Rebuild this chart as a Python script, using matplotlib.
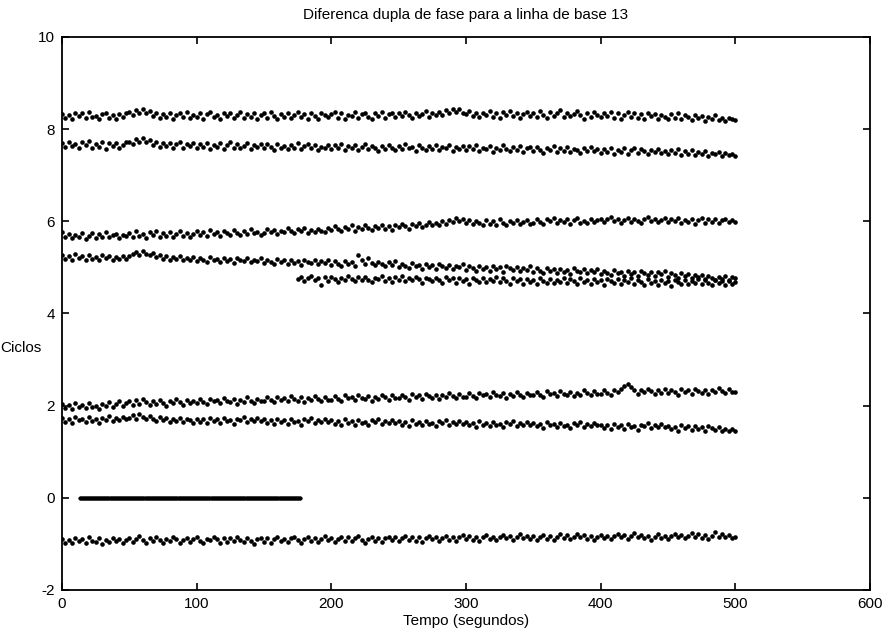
import matplotlib.pyplot as plt
import numpy as np

plt.rcParams['font.family'] = ['Liberation Sans', 'DejaVu Sans']
plt.rcParams['axes.unicode_minus'] = False

# sample times (s) for the full-length series, 2.5 s apart
t_full = np.arange(0, 500.1, 2.5)
# the branch that splits off near t = 175 s
t_split = np.arange(175, 500.1, 2.5)
# the reference baseline (constant zero) from 13 s to 177 s
t_zero = np.arange(13, 177.1, 0.5)
zero_vals = np.zeros(len(t_zero))

s_83 = [
    8.33, 8.24, 8.31, 8.22, 8.35, 8.28, 8.34, 8.25, 8.37, 8.26, 8.29, 8.23, 8.32, 8.36, 8.24, 8.30, 8.21, 8.33, 8.27, 8.34,
    8.38, 8.31, 8.42, 8.34, 8.44, 8.36, 8.39, 8.29, 8.35, 8.25, 8.33, 8.27, 8.36, 8.22, 8.31, 8.34, 8.26, 8.37, 8.24, 8.30,
    8.27, 8.35, 8.23, 8.32, 8.37, 8.26, 8.31, 8.21, 8.34, 8.28, 8.36, 8.25, 8.30, 8.38, 8.24, 8.33, 8.27, 8.35, 8.22, 8.31,
    8.34, 8.25, 8.37, 8.29, 8.22, 8.33, 8.27, 8.36, 8.24, 8.31, 8.38, 8.26, 8.32, 8.23, 8.35, 8.28, 8.21, 8.34, 8.30, 8.26,
    8.32, 8.37, 8.25, 8.34, 8.22, 8.31, 8.28, 8.38, 8.24, 8.33, 8.36, 8.27, 8.23, 8.35, 8.29, 8.37, 8.25, 8.32, 8.34, 8.26,
    8.35, 8.28, 8.37, 8.30, 8.25, 8.36, 8.29, 8.33, 8.39, 8.27, 8.35, 8.31, 8.38, 8.30, 8.42, 8.35, 8.44, 8.37, 8.43, 8.36,
    8.32, 8.39, 8.28, 8.36, 8.26, 8.35, 8.31, 8.40, 8.27, 8.34, 8.24, 8.37, 8.30, 8.39, 8.29, 8.36, 8.25, 8.33, 8.38, 8.28,
    8.35, 8.27, 8.40, 8.31, 8.24, 8.37, 8.29, 8.34, 8.41, 8.26, 8.36, 8.28, 8.33, 8.39, 8.30, 8.23, 8.35, 8.27, 8.38, 8.31,
    8.26, 8.36, 8.29, 8.38, 8.25, 8.34, 8.23, 8.31, 8.37, 8.27, 8.35, 8.24, 8.32, 8.21, 8.36, 8.28, 8.33, 8.22, 8.30, 8.26,
    8.23, 8.32, 8.25, 8.35, 8.21, 8.30, 8.26, 8.19, 8.31, 8.24, 8.28, 8.18, 8.27, 8.22, 8.30, 8.20, 8.25, 8.17, 8.24, 8.21,
    8.19,
]

s_76 = [
    7.70, 7.61, 7.73, 7.63, 7.68, 7.58, 7.71, 7.65, 7.74, 7.60, 7.67, 7.62, 7.72, 7.57, 7.69, 7.64, 7.70, 7.59, 7.66, 7.71,
    7.73, 7.68, 7.79, 7.72, 7.80, 7.71, 7.76, 7.66, 7.73, 7.61, 7.70, 7.64, 7.69, 7.58, 7.67, 7.71, 7.60, 7.68, 7.63, 7.70,
    7.59, 7.68, 7.62, 7.70, 7.57, 7.66, 7.61, 7.69, 7.56, 7.65, 7.71, 7.60, 7.67, 7.58, 7.63, 7.69, 7.57, 7.66, 7.62, 7.68,
    7.58, 7.67, 7.61, 7.55, 7.68, 7.60, 7.64, 7.57, 7.66, 7.59, 7.69, 7.56, 7.63, 7.67, 7.58, 7.65, 7.54, 7.62, 7.60, 7.66,
    7.57, 7.65, 7.59, 7.67, 7.55, 7.63, 7.58, 7.66, 7.54, 7.62, 7.68, 7.56, 7.64, 7.59, 7.53, 7.63, 7.57, 7.66, 7.60, 7.55,
    7.64, 7.56, 7.67, 7.58, 7.62, 7.53, 7.65, 7.59, 7.55, 7.63, 7.57, 7.66, 7.54, 7.61, 7.58, 7.65, 7.52, 7.62, 7.56, 7.64,
    7.55, 7.63, 7.57, 7.66, 7.52, 7.60, 7.56, 7.64, 7.51, 7.59, 7.54, 7.65, 7.57, 7.53, 7.61, 7.55, 7.63, 7.50, 7.58, 7.62,
    7.52, 7.61, 7.55, 7.49, 7.60, 7.54, 7.63, 7.51, 7.58, 7.53, 7.62, 7.50, 7.57, 7.55, 7.48, 7.59, 7.53, 7.61, 7.52, 7.57,
    7.49, 7.57, 7.51, 7.59, 7.47, 7.55, 7.50, 7.58, 7.46, 7.54, 7.60, 7.49, 7.56, 7.52, 7.45, 7.55, 7.50, 7.57, 7.48, 7.53,
    7.46, 7.54, 7.49, 7.56, 7.44, 7.52, 7.47, 7.55, 7.43, 7.50, 7.46, 7.53, 7.42, 7.49, 7.45, 7.51, 7.41, 7.48, 7.44, 7.47,
    7.42,
]

s_58 = [
    5.76, 5.67, 5.73, 5.63, 5.71, 5.66, 5.74, 5.62, 5.69, 5.75, 5.64, 5.72, 5.67, 5.77, 5.65, 5.70, 5.73, 5.63, 5.71, 5.68,
    5.75, 5.66, 5.78, 5.69, 5.73, 5.64, 5.76, 5.70, 5.79, 5.67, 5.74, 5.68, 5.77, 5.65, 5.72, 5.78, 5.69, 5.75, 5.66, 5.73,
    5.79, 5.70, 5.77, 5.68, 5.81, 5.73, 5.76, 5.69, 5.80, 5.74, 5.71, 5.82, 5.75, 5.70, 5.78, 5.72, 5.83, 5.74, 5.77, 5.71,
    5.75, 5.84, 5.77, 5.82, 5.73, 5.80, 5.76, 5.85, 5.78, 5.74, 5.83, 5.79, 5.86, 5.75, 5.81, 5.77, 5.84, 5.80, 5.76, 5.85,
    5.81, 5.89, 5.83, 5.79, 5.88, 5.84, 5.91, 5.80, 5.87, 5.83, 5.92, 5.85, 5.81, 5.90, 5.86, 5.93, 5.84, 5.89, 5.82, 5.91,
    5.87, 5.95, 5.89, 5.84, 5.94, 5.90, 5.97, 5.88, 5.93, 5.99, 5.91, 5.96, 5.92, 6.00, 5.95, 6.03, 5.98, 6.07, 6.01, 6.05,
    5.96, 6.03, 5.94, 6.01, 5.97, 5.92, 6.02, 5.95, 6.00, 5.93, 6.04, 5.97, 5.91, 6.01, 5.96, 6.03, 5.94, 5.99, 6.02, 5.95,
    5.97, 6.05, 5.99, 5.94, 6.04, 6.00, 6.07, 5.96, 6.02, 5.98, 6.06, 5.95, 6.03, 6.08, 5.97, 6.01, 5.96, 6.05, 5.99, 6.03,
    6.06, 5.98, 6.04, 6.09, 6.00, 6.05, 5.97, 6.03, 6.08, 5.99, 6.06, 6.01, 5.96, 6.04, 6.10, 6.00, 6.05, 5.98, 6.03, 6.07,
    5.98, 6.05, 6.00, 6.08, 5.96, 6.03, 5.99, 6.06, 5.95, 6.02, 6.07, 5.97, 6.04, 5.99, 6.05, 5.96, 6.02, 6.06, 5.98, 6.03,
    5.99,
]

s_52 = [
    5.26, 5.18, 5.24, 5.16, 5.28, 5.21, 5.25, 5.17, 5.27, 5.19, 5.23, 5.15, 5.26, 5.20, 5.24, 5.16, 5.22, 5.18, 5.25, 5.19,
    5.24, 5.29, 5.34, 5.27, 5.36, 5.29, 5.26, 5.31, 5.22, 5.27, 5.18, 5.25, 5.16, 5.23, 5.19, 5.25, 5.15, 5.21, 5.17, 5.23,
    5.14, 5.21, 5.16, 5.12, 5.22, 5.15, 5.19, 5.11, 5.20, 5.14, 5.18, 5.10, 5.21, 5.16, 5.13, 5.20, 5.11, 5.17, 5.14, 5.21,
    5.10, 5.17, 5.12, 5.07, 5.18, 5.11, 5.15, 5.08, 5.16, 5.10, 5.14, 5.06, 5.17, 5.12, 5.09, 5.15, 5.07, 5.13, 5.10, 5.16,
    5.06, 5.13, 5.08, 5.04, 5.14, 5.07, 5.11, 5.03, 5.27, 5.16, 5.08, 5.20, 5.10, 5.05, 5.12, 5.07, 5.02, 5.11, 5.06, 5.13,
    5.00, 5.08, 5.03, 4.98, 5.09, 5.02, 5.06, 4.97, 5.07, 5.01, 5.05, 4.96, 5.08, 5.03, 4.99, 5.06, 4.97, 5.04, 5.00, 5.07,
    4.95, 5.03, 4.98, 4.93, 5.04, 4.97, 5.01, 4.92, 5.02, 4.96, 5.00, 4.91, 5.03, 4.98, 4.94, 5.01, 4.92, 4.99, 4.95, 5.02,
    4.90, 4.98, 4.93, 4.88, 4.99, 4.92, 4.96, 4.87, 4.97, 4.91, 4.95, 4.86, 4.98, 4.93, 4.89, 4.96, 4.87, 4.94, 4.90, 4.97,
    4.85, 4.93, 4.88, 4.83, 4.94, 4.87, 4.91, 4.82, 4.92, 4.86, 4.90, 4.81, 4.93, 4.88, 4.84, 4.91, 4.82, 4.89, 4.85, 4.92,
    4.80, 4.88, 4.83, 4.78, 4.87, 4.81, 4.85, 4.76, 4.84, 4.79, 4.83, 4.74, 4.82, 4.78, 4.72, 4.80, 4.75, 4.81, 4.73, 4.79,
    4.76,
]

s_47 = [
    4.74, 4.79, 4.70, 4.77, 4.82, 4.72, 4.76, 4.61, 4.79, 4.71, 4.80, 4.74, 4.69, 4.78, 4.73, 4.81, 4.75, 4.70, 4.79, 4.72,
    4.80, 4.73, 4.69, 4.78, 4.74, 4.82, 4.71, 4.77, 4.68, 4.79, 4.73, 4.81, 4.70, 4.76, 4.72, 4.80, 4.74, 4.67, 4.78, 4.75,
    4.70, 4.78, 4.73, 4.67, 4.79, 4.72, 4.76, 4.66, 4.77, 4.71, 4.75, 4.65, 4.78, 4.73, 4.69, 4.77, 4.68, 4.75, 4.71, 4.79,
    4.68, 4.76, 4.71, 4.65, 4.77, 4.70, 4.74, 4.64, 4.75, 4.69, 4.73, 4.63, 4.76, 4.71, 4.67, 4.75, 4.66, 4.73, 4.69, 4.77,
    4.67, 4.75, 4.70, 4.64, 4.76, 4.69, 4.73, 4.63, 4.74, 4.68, 4.72, 4.62, 4.75, 4.70, 4.66, 4.74, 4.65, 4.72, 4.68, 4.76,
    4.65, 4.73, 4.68, 4.62, 4.74, 4.67, 4.71, 4.61, 4.72, 4.66, 4.70, 4.60, 4.73, 4.68, 4.64, 4.72, 4.63, 4.70, 4.66, 4.74,
    4.64, 4.72, 4.67, 4.61, 4.73, 4.66, 4.70, 4.62, 4.71, 4.65, 4.68,
]

s_22 = [
    2.03, 1.95, 2.01, 1.93, 2.05, 1.98, 2.02, 1.94, 2.06, 1.97, 2.00, 1.92, 2.04, 1.99, 2.07, 1.96, 2.03, 2.09, 2.00, 2.06,
    2.09, 2.02, 2.12, 2.04, 2.15, 2.07, 2.01, 2.10, 2.03, 2.13, 2.06, 2.00, 2.11, 2.05, 2.14, 2.08, 2.02, 2.12, 2.05, 2.10,
    2.06, 2.14, 2.08, 2.03, 2.15, 2.09, 2.12, 2.05, 2.17, 2.10, 2.07, 2.14, 2.04, 2.12, 2.08, 2.18, 2.11, 2.06, 2.15, 2.09,
    2.10, 2.18, 2.12, 2.07, 2.19, 2.13, 2.16, 2.09, 2.20, 2.14, 2.11, 2.18, 2.08, 2.16, 2.12, 2.21, 2.15, 2.10, 2.19, 2.13,
    2.13, 2.21, 2.15, 2.10, 2.22, 2.16, 2.19, 2.12, 2.23, 2.17, 2.14, 2.21, 2.11, 2.19, 2.15, 2.24, 2.18, 2.13, 2.22, 2.16,
    2.16, 2.24, 2.18, 2.13, 2.25, 2.19, 2.22, 2.15, 2.26, 2.20, 2.17, 2.24, 2.14, 2.22, 2.18, 2.27, 2.21, 2.16, 2.25, 2.19,
    2.19, 2.27, 2.21, 2.16, 2.28, 2.22, 2.25, 2.18, 2.29, 2.23, 2.20, 2.27, 2.17, 2.25, 2.21, 2.30, 2.24, 2.19, 2.28, 2.22,
    2.22, 2.30, 2.24, 2.19, 2.31, 2.25, 2.28, 2.21, 2.32, 2.26, 2.23, 2.30, 2.20, 2.28, 2.24, 2.33, 2.27, 2.22, 2.31, 2.25,
    2.25, 2.33, 2.27, 2.22, 2.34, 2.30, 2.36, 2.42, 2.48, 2.40, 2.33, 2.26, 2.35, 2.29, 2.37, 2.31, 2.25, 2.34, 2.28, 2.36,
    2.27, 2.35, 2.29, 2.24, 2.36, 2.30, 2.33, 2.26, 2.37, 2.31, 2.28, 2.35, 2.25, 2.33, 2.29, 2.38, 2.32, 2.27, 2.36, 2.30,
    2.29,
]

s_16 = [
    1.73, 1.65, 1.71, 1.63, 1.75, 1.68, 1.72, 1.64, 1.76, 1.67, 1.70, 1.62, 1.74, 1.69, 1.77, 1.66, 1.73, 1.68, 1.75, 1.70,
    1.74, 1.79, 1.72, 1.81, 1.76, 1.70, 1.78, 1.71, 1.66, 1.75, 1.69, 1.73, 1.64, 1.71, 1.67, 1.74, 1.65, 1.72, 1.68, 1.63,
    1.72, 1.65, 1.70, 1.62, 1.74, 1.67, 1.71, 1.63, 1.73, 1.66, 1.69, 1.61, 1.72, 1.68, 1.75, 1.64, 1.70, 1.66, 1.73, 1.67,
    1.70, 1.63, 1.68, 1.60, 1.72, 1.65, 1.69, 1.61, 1.71, 1.64, 1.67, 1.59, 1.70, 1.66, 1.73, 1.62, 1.68, 1.64, 1.71, 1.65,
    1.68, 1.61, 1.66, 1.58, 1.70, 1.63, 1.67, 1.59, 1.69, 1.62, 1.65, 1.57, 1.68, 1.64, 1.71, 1.60, 1.66, 1.62, 1.69, 1.63,
    1.66, 1.59, 1.64, 1.56, 1.68, 1.61, 1.65, 1.57, 1.67, 1.60, 1.63, 1.55, 1.66, 1.62, 1.69, 1.58, 1.64, 1.60, 1.67, 1.61,
    1.64, 1.57, 1.62, 1.54, 1.66, 1.59, 1.63, 1.55, 1.65, 1.58, 1.61, 1.53, 1.64, 1.60, 1.67, 1.56, 1.62, 1.58, 1.65, 1.59,
    1.62, 1.55, 1.60, 1.52, 1.64, 1.57, 1.61, 1.53, 1.63, 1.56, 1.59, 1.51, 1.62, 1.58, 1.65, 1.54, 1.60, 1.56, 1.63, 1.57,
    1.59, 1.52, 1.57, 1.49, 1.61, 1.54, 1.58, 1.50, 1.60, 1.53, 1.56, 1.48, 1.59, 1.55, 1.62, 1.51, 1.57, 1.53, 1.60, 1.54,
    1.56, 1.49, 1.54, 1.46, 1.58, 1.51, 1.55, 1.47, 1.56, 1.50, 1.53, 1.45, 1.55, 1.51, 1.48, 1.53, 1.44, 1.50, 1.46, 1.49,
    1.44,
]

s_m09 = [
    -0.89, -0.97, -0.91, -0.99, -0.87, -0.94, -0.90, -0.98, -0.86, -0.93, -0.96, -0.88, -1.00, -0.92, -0.95, -0.87, -0.93, -0.90, -0.97, -0.91,
    -0.87, -0.95, -0.89, -0.83, -0.92, -0.97, -0.88, -0.94, -0.85, -0.91, -0.98, -0.89, -0.93, -0.86, -0.90, -0.99, -0.92, -0.87, -0.95, -0.89,
    -0.86, -0.94, -0.97, -0.89, -0.92, -0.85, -0.90, -0.98, -0.88, -0.95, -0.87, -0.93, -0.84, -0.91, -0.96, -0.88, -0.94, -1.00, -0.90, -0.87,
    -0.95, -0.88, -0.97, -0.90, -0.85, -0.93, -0.89, -0.96, -0.87, -0.84, -0.92, -0.98, -0.90, -0.86, -0.94, -0.88, -0.95, -0.89, -0.83, -0.92,
    -0.87, -0.95, -0.89, -0.84, -0.93, -0.86, -0.94, -0.88, -0.83, -0.91, -0.97, -0.89, -0.85, -0.93, -0.87, -0.96, -0.88, -0.84, -0.92, -0.86,
    -0.94, -0.87, -0.83, -0.91, -0.85, -0.93, -0.86, -0.96, -0.88, -0.83, -0.90, -0.85, -0.94, -0.87, -0.82, -0.91, -0.84, -0.93, -0.86, -0.81,
    -0.90, -0.83, -0.91, -0.85, -0.94, -0.86, -0.81, -0.89, -0.84, -0.92, -0.85, -0.80, -0.88, -0.82, -0.91, -0.85, -0.79, -0.87, -0.83, -0.90,
    -0.83, -0.92, -0.85, -0.80, -0.89, -0.82, -0.91, -0.84, -0.79, -0.87, -0.81, -0.90, -0.84, -0.78, -0.86, -0.81, -0.89, -0.83, -0.92, -0.85,
    -0.80, -0.88, -0.82, -0.90, -0.83, -0.78, -0.86, -0.81, -0.89, -0.83, -0.77, -0.85, -0.80, -0.88, -0.82, -0.91, -0.84, -0.79, -0.87, -0.82,
    -0.89, -0.82, -0.78, -0.86, -0.80, -0.88, -0.82, -0.76, -0.85, -0.79, -0.87, -0.81, -0.90, -0.83, -0.74, -0.85, -0.79, -0.86, -0.81, -0.88,
    -0.85,
]

fig = plt.figure(figsize=(8.95, 6.35), dpi=100)
ax = fig.add_axes([0.0693, 0.0709, 0.9028, 0.8709])

dot = dict(linestyle='none', marker='o', markersize=3.3, markeredgewidth=0, color='black')
for series in [s_83, s_76, s_58, s_52, s_22, s_16, s_m09]:
    ax.plot(t_full, series, **dot)
ax.plot(t_split, s_47, **dot)
ax.plot(t_zero, zero_vals, linestyle='none', marker='o', markersize=2.8,
        markeredgewidth=0, color='black')

ax.set_xlim(0, 600)
ax.set_ylim(-2, 10)
ax.set_xticks(np.arange(0, 601, 100))
ax.set_yticks(np.arange(-2, 11, 2))
ax.tick_params(direction='in', length=5, width=1.2, top=True, right=True,
               labelsize=11, pad=5)
for sp in ax.spines.values():
    sp.set_linewidth(1.3)

ax.set_title('Diferenca dupla de fase para a linha de base 13', fontsize=11, pad=13)
ax.set_xlabel('Tempo (segundos)', fontsize=11, labelpad=2)
fig.text(0.0235, 0.452, 'Ciclos', fontsize=11, ha='center', va='center')

fig.savefig('out.png', dpi=100)
